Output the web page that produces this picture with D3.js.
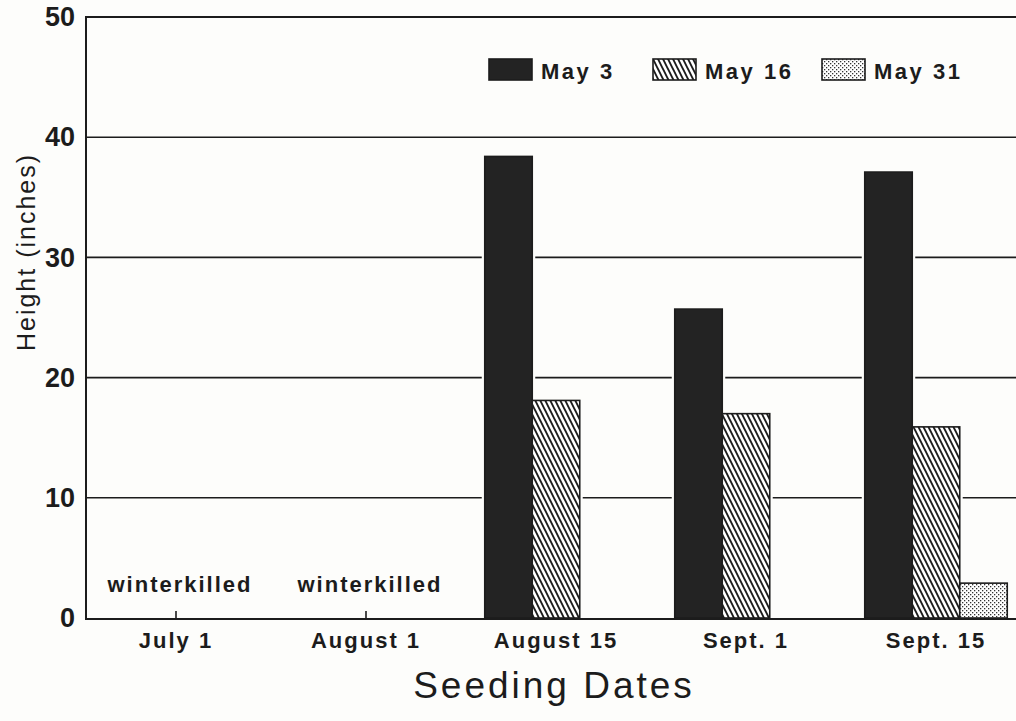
<!DOCTYPE html>
<html>
<head>
<meta charset="utf-8">
<script src="https://cdn.jsdelivr.net/npm/d3@7"></script>
<style>
  html, body { margin: 0; padding: 0; background: #fdfdfb; }
  svg { display: block; }
  text { font-family: "Liberation Sans", Arial, Helvetica, sans-serif; fill: #1c1c1c; }
</style>
</head>
<body>
<script>
// values (inches)
const categories = ['July 1', 'August 1', 'August 15', 'Sept. 1', 'Sept. 15'];
const seriesNames = ['May 3', 'May 16', 'May 31'];
const may3 = [null, null, 38.4, 25.7, 37.1];
const may16 = [null, null, 18.1, 17.0, 15.9];
const may31 = [null, null, null, null, 2.9];
const winterkilled = ['July 1', 'August 1'];
const yTicks = [0, 10, 20, 30, 40, 50];

const WIDTH = 1016;
const HEIGHT = 721;
const LEFT = 86;
const TOP = 17;
const BOTTOM = 618;
const INK = '#1c1c1c';

const svg = d3.select('body')
  .append('svg')
  .attr('width', WIDTH)
  .attr('height', HEIGHT);

const defs = svg.append('defs');

// diagonal hatching for May 16
const hatch = defs.append('pattern')
  .attr('id', 'hatch')
  .attr('patternUnits', 'userSpaceOnUse')
  .attr('width', 5)
  .attr('height', 10);
hatch.append('rect').attr('width', 5).attr('height', 10).attr('fill', '#fff');
hatch.append('path')
  .attr('d', 'M-5,-10L10,20M0,-10L15,20M-10,-10L5,20')
  .attr('stroke', INK)
  .attr('stroke-width', 1.9);

// fine dot screen for May 31
const dots = defs.append('pattern')
  .attr('id', 'dots')
  .attr('patternUnits', 'userSpaceOnUse')
  .attr('width', 4)
  .attr('height', 4);
dots.append('rect').attr('width', 4).attr('height', 4).attr('fill', '#fff');
dots.append('rect').attr('x', 0).attr('y', 0).attr('width', 1.3).attr('height', 1.3).attr('fill', '#333');
dots.append('rect').attr('x', 2).attr('y', 2).attr('width', 1.3).attr('height', 1.3).attr('fill', '#333');

const fills = ['#232323', 'url(#hatch)', 'url(#dots)'];
const series = [may3, may16, may31];

const x = d3.scaleBand()
  .domain(categories)
  .range([81, 1031])
  .paddingInner(0.25)
  .paddingOuter(0.125);

const xInner = d3.scaleBand()
  .domain(seriesNames)
  .range([0, x.bandwidth()]);

const y = d3.scaleLinear()
  .domain([0, 50])
  .range([BOTTOM, TOP]);

// gridlines
svg.append('g')
  .selectAll('line')
  .data(yTicks.filter(d => d > 0 && d < 50))
  .enter().append('line')
    .attr('x1', LEFT)
    .attr('x2', WIDTH)
    .attr('y1', d => y(d))
    .attr('y2', d => y(d))
    .attr('stroke', INK)
    .attr('stroke-width', 1.6);

// y tick labels
const yAxis = svg.append('g')
  .attr('transform', `translate(${LEFT}, 0)`)
  .call(d3.axisLeft(y).tickValues(yTicks).tickSize(0).tickPadding(11));
yAxis.select('.domain').remove();
yAxis.selectAll('text')
  .attr('font-size', 27)
  .attr('font-weight', 'bold')
  .attr('font-family', '"Liberation Sans", Arial, sans-serif')
  .attr('fill', INK);

// x axis: small upward ticks and labels
const xAxis = svg.append('g')
  .attr('transform', `translate(0, ${BOTTOM})`)
  .call(d3.axisBottom(x).tickSize(-7).tickPadding(14));
xAxis.select('.domain').remove();
xAxis.selectAll('line').attr('stroke', INK).attr('stroke-width', 1.6);
xAxis.selectAll('text')
  .attr('font-size', 22)
  .attr('font-weight', 'bold')
  .attr('letter-spacing', 2)
  .attr('font-family', '"Liberation Sans", Arial, sans-serif')
  .attr('fill', INK);

// bars
const bars = [];
categories.forEach((c, i) => {
  series.forEach((s, j) => {
    if (s[i] != null) bars.push({cat: c, key: seriesNames[j], value: s[i], fill: fills[j]});
  });
});

// white gap around each bar where gridlines meet it
svg.append('g')
  .selectAll('rect')
  .data(bars)
  .enter().append('rect')
    .attr('x', d => x(d.cat) + xInner(d.key) - 3)
    .attr('y', d => y(d.value) - 3)
    .attr('width', xInner.bandwidth() + 6)
    .attr('height', d => BOTTOM - y(d.value) + 3)
    .attr('fill', '#fdfdfb');

svg.append('g')
  .selectAll('rect')
  .data(bars)
  .enter().append('rect')
    .attr('x', d => x(d.cat) + xInner(d.key))
    .attr('y', d => y(d.value))
    .attr('width', xInner.bandwidth())
    .attr('height', d => BOTTOM - y(d.value))
    .attr('fill', d => d.fill)
    .attr('stroke', INK)
    .attr('stroke-width', 1.6);

// frame: left axis, top rule, baseline
svg.append('path')
  .attr('d', `M${WIDTH},${TOP}H${LEFT}V${BOTTOM + 1}H${WIDTH}`)
  .attr('fill', 'none')
  .attr('stroke', INK)
  .attr('stroke-width', 2);

// winterkilled notes
svg.append('g')
  .selectAll('text')
  .data(winterkilled)
  .enter().append('text')
    .attr('x', d => x(d) + x.bandwidth() / 2 + 4)
    .attr('y', 592)
    .attr('text-anchor', 'middle')
    .attr('font-size', 22)
    .attr('font-weight', 'bold')
    .attr('letter-spacing', 2)
    .text('winterkilled');

// legend
const legend = svg.append('g')
  .selectAll('g')
  .data(seriesNames)
  .enter().append('g')
    .attr('transform', (d, i) => `translate(${[489, 653, 822][i]}, 59)`);
legend.append('rect')
  .attr('width', 43)
  .attr('height', 21)
  .attr('fill', (d, i) => fills[i])
  .attr('stroke', INK)
  .attr('stroke-width', 1.6);
legend.append('text')
  .attr('x', 52)
  .attr('y', 20)
  .attr('font-size', 22)
  .attr('font-weight', 'bold')
  .attr('letter-spacing', 2.5)
  .text(d => d);

// axis titles
svg.append('text')
  .attr('x', 554)
  .attr('y', 698)
  .attr('text-anchor', 'middle')
  .attr('font-size', 37)
  .attr('letter-spacing', 3)
  .text('Seeding Dates');

svg.append('text')
  .attr('transform', 'translate(35, 252) rotate(-90)')
  .attr('text-anchor', 'middle')
  .attr('font-size', 25)
  .attr('letter-spacing', 2)
  .text('Height (inches)');
</script>
</body>
</html>
